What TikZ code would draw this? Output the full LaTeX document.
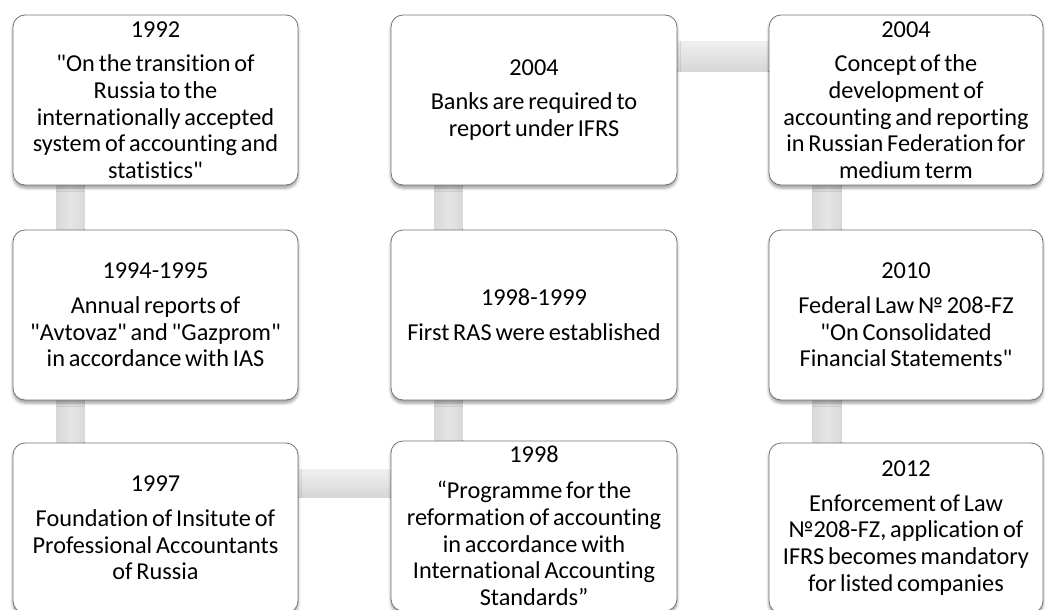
\documentclass[tikz,border=0pt]{standalone}
\usepackage{fontspec}
\newfontfamily\eventfont{Carlito}[Ligatures=CommonOff, WordSpace=0.7]
\usetikzlibrary{backgrounds,shadows.blur}
\tikzset{
  event/.style={draw=black!55, fill=white, rounded corners=12pt, align=center,
    minimum height=170pt, inner sep=0pt, line width=0.8pt,
    font=\eventfont\fontsize{24.3}{26.7}\selectfont,
    blur shadow={shadow xshift=0pt, shadow yshift=-3pt, shadow blur radius=3pt, shadow opacity=40}},
  vband/.style={left color=black!15, right color=black!15, middle color=black!10},
  hband/.style={top color=black!6, bottom color=black!16},
}
\begin{document}
\begin{tikzpicture}[x=1pt, y=-1pt]
\clip (0,0) rectangle (1045,610);
\useasboundingbox (0,0) rectangle (1045,610);
% first column, top to bottom
\node[event, minimum width=285pt] (y1992) at (155.5,100) {1992\\[8pt]"On the transition of\\Russia to the\\internationally accepted\\system of accounting and\\statistics"};
\node[event, minimum width=285pt] (y1994) at (155.5,315) {1994-1995\\[8pt]Annual reports of\\"Avtovaz" and "Gazprom"\\in accordance with IAS};
\node[event, minimum width=285pt] (y1997) at (155.5,528) {1997\\[8pt]Foundation of Insitute of\\Professional Accountants\\of Russia};
% second column, bottom to top
\node[event, minimum width=286pt] (y1998) at (534,526) {1998\\[9pt]“Programme for the\\reformation of accounting\\in accordance with\\International Accounting\\Standards”};
\node[event, minimum width=286pt] (y1999) at (534,315) {1998-1999\\[8pt]First RAS were established};
\node[event, minimum width=286pt] (y2004a) at (534,100) {2004\\[8pt]Banks are required to\\report under IFRS};
% third column, top to bottom
\node[event, minimum width=274pt] (y2004b) at (906,100) {2004\\[8pt]Concept of the\\development of\\accounting and reporting\\in Russian Federation for\\medium term};
\node[event, minimum width=274pt] (y2010) at (906,315) {2010\\[8pt]Federal Law № 208-FZ\\"On Consolidated\\Financial Statements"};
\node[event, minimum width=274pt] (y2012) at (906,528) {2012\\[8pt]Enforcement of Law\\№208-FZ, application of\\IFRS becomes mandatory\\for listed companies};
% connecting bands
\begin{scope}[on background layer]
\fill[vband] ([xshift=44pt]y1992.south west) rectangle ([xshift=72pt]y1994.north west);
\fill[vband] ([xshift=44pt]y1994.south west) rectangle ([xshift=72pt]y1997.north west);
\fill[hband] ([yshift=-27pt]y1997.north east) rectangle ([yshift=-57pt]y1998.north west);
\fill[vband] ([xshift=44pt]y1998.north west) rectangle ([xshift=72pt]y1999.south west);
\fill[vband] ([xshift=44pt]y1999.north west) rectangle ([xshift=72pt]y2004a.south west);
\fill[hband] ([yshift=-27pt]y2004a.north east) rectangle ([yshift=-57pt]y2004b.north west);
\fill[vband] ([xshift=44pt]y2004b.south west) rectangle ([xshift=73pt]y2010.north west);
\fill[vband] ([xshift=44pt]y2010.south west) rectangle ([xshift=73pt]y2012.north west);
\end{scope}
\end{tikzpicture}
\end{document}
